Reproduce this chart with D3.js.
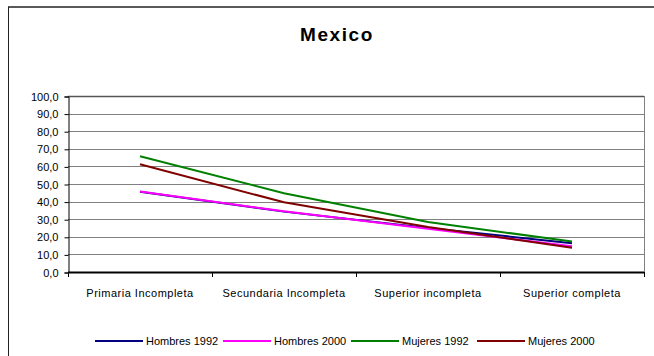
<!DOCTYPE html>
<html>
<head>
<meta charset="utf-8">
<script src="https://cdn.jsdelivr.net/npm/d3@7"></script>
<style>
  html, body { margin: 0; padding: 0; background: #fff; }
  svg { display: block; font-family: "Liberation Sans", Arial, sans-serif; }
</style>
</head>
<body>
<svg id="chart" width="654" height="356"></svg>
<script>
// Education levels (x axis)
const categories = ["Primaria Incompleta", "Secundaria Incompleta", "Superior incompleta", "Superior completa"];

// Percentages per series
const hombres1992 = [45.6, 34.3, 25.0, 16.4];
const hombres2000 = [45.7, 34.5, 24.6, 14.6];
const mujeres1992 = [65.8, 44.8, 28.4, 17.3];
const mujeres2000 = [61.2, 39.6, 25.6, 13.8];

const seriesNames = ["Hombres 1992", "Hombres 2000", "Mujeres 1992", "Mujeres 2000"];
const seriesColors = ["#000080", "#ff00ff", "#008000", "#800000"];
const seriesValues = [hombres1992, hombres2000, mujeres1992, mujeres2000];

const yTicks = [0, 10, 20, 30, 40, 50, 60, 70, 80, 90, 100];

const svg = d3.select("#chart");
const plot = { left: 68, right: 644, top: 96, bottom: 272 };

// Outer chart frame (top and left edges in view)
svg.append("line").attr("x1", 8).attr("x2", 654).attr("y1", 7).attr("y2", 7)
  .attr("stroke", "#222").attr("stroke-width", 1.5);
svg.append("line").attr("x1", 8.5).attr("x2", 8.5).attr("y1", 7).attr("y2", 356)
  .attr("stroke", "#222").attr("stroke-width", 1);

// Title
svg.append("text").attr("x", 337).attr("y", 41)
  .attr("text-anchor", "middle")
  .attr("font-size", 19).attr("font-weight", "bold")
  .attr("letter-spacing", 1.6)
  .attr("fill", "#000")
  .text("Mexico");

const x = d3.scalePoint().domain(categories).range([plot.left, plot.right]).padding(0.5);
const xBand = d3.scaleBand().domain(categories).range([plot.left, plot.right]);
const y = d3.scaleLinear().domain([0, 100]).range([plot.bottom, plot.top]);

// Horizontal gridlines
svg.append("g").selectAll("line").data(yTicks.filter(d => d > 0)).join("line")
  .attr("x1", plot.left).attr("x2", plot.right)
  .attr("y1", d => Math.round(y(d)) + 0.5).attr("y2", d => Math.round(y(d)) + 0.5)
  .attr("stroke", d => d === 100 ? "#555" : "#808080")
  .attr("stroke-width", d => d === 100 ? 1.5 : 1);

// Right border of the plot area
svg.append("line").attr("x1", plot.right + 0.5).attr("x2", plot.right + 0.5)
  .attr("y1", plot.top).attr("y2", plot.bottom)
  .attr("stroke", "#808080");

// Y axis
const yAxis = d3.axisLeft(y).tickValues(yTicks).tickSize(4).tickPadding(6)
  .tickFormat(d => d3.format(".1f")(d).replace(".", ","));
const gy = svg.append("g").attr("transform", `translate(${plot.left + 0.5},0.5)`).call(yAxis);
gy.select(".domain").attr("stroke", "#000");
gy.selectAll(".tick line").attr("stroke", "#000");
gy.selectAll(".tick text").attr("font-size", 11).attr("fill", "#000")
  .attr("font-family", "Liberation Sans, Arial, sans-serif");

// X axis with ticks at category boundaries
const boundaries = categories.map(c => xBand(c)).concat([plot.right]);
svg.append("line").attr("x1", plot.left).attr("x2", plot.right)
  .attr("y1", plot.bottom + 0.5).attr("y2", plot.bottom + 0.5)
  .attr("stroke", "#000").attr("stroke-width", 2);
svg.append("g").selectAll("line").data(boundaries).join("line")
  .attr("x1", d => Math.round(d) + 0.5).attr("x2", d => Math.round(d) + 0.5)
  .attr("y1", plot.bottom).attr("y2", plot.bottom + 5)
  .attr("stroke", "#000");
svg.append("g").selectAll("text").data(categories).join("text")
  .attr("x", d => x(d)).attr("y", 297)
  .attr("text-anchor", "middle")
  .attr("font-size", 11).attr("letter-spacing", 0.5)
  .attr("fill", "#000")
  .text(d => d);

// Series lines
const line = d3.line().x((d, i) => x(categories[i])).y(d => y(d));
svg.append("g").selectAll("path").data(seriesValues).join("path")
  .attr("d", d => line(d))
  .attr("fill", "none")
  .attr("stroke", (d, i) => seriesColors[i])
  .attr("stroke-width", 2);

// Legend
const legendX = [95, 223, 351, 477];
const legend = svg.append("g").selectAll("g").data(seriesNames).join("g")
  .attr("transform", (d, i) => `translate(${legendX[i]},341)`);
legend.append("line").attr("x1", 0).attr("x2", 48).attr("y1", 0).attr("y2", 0)
  .attr("stroke", (d, i) => seriesColors[i]).attr("stroke-width", 2);
legend.append("text").attr("x", 51).attr("y", 4)
  .attr("font-size", 11)
  .attr("fill", "#000")
  .text(d => d);
</script>
</body>
</html>
